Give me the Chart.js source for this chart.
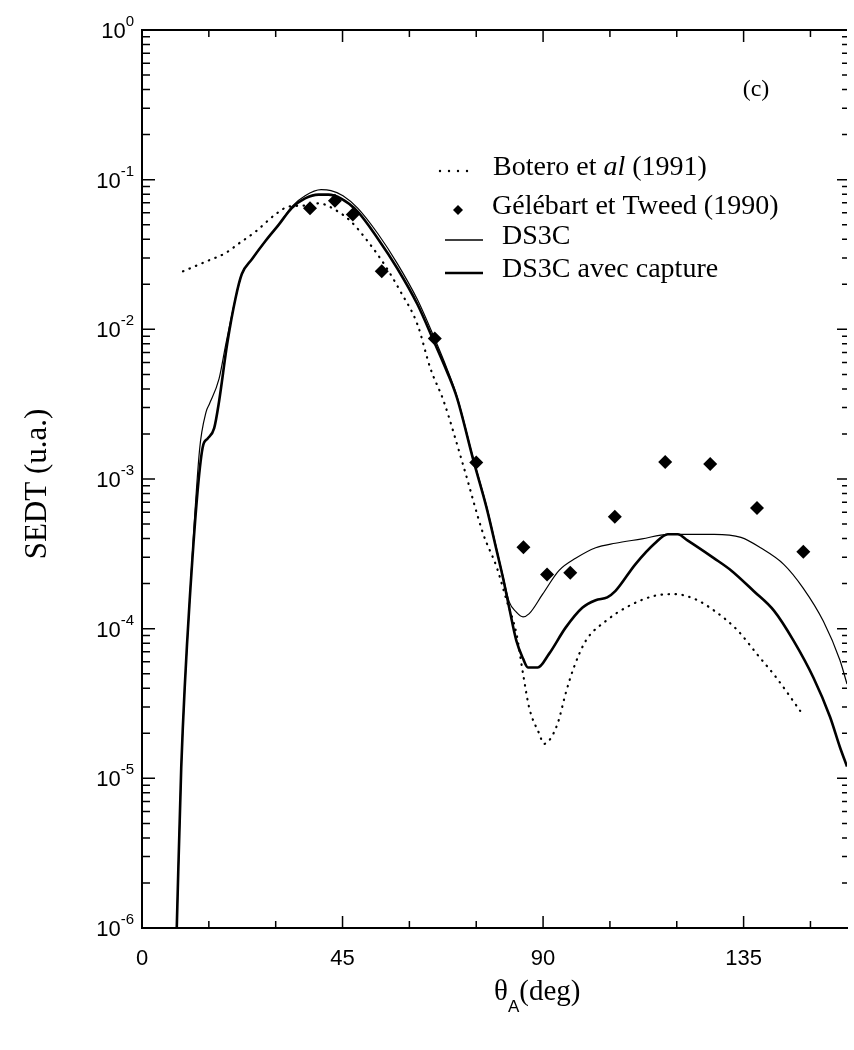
<!DOCTYPE html>
<html>
<head>
<meta charset="utf-8">
<script src="https://cdn.jsdelivr.net/npm/chart.js@4.4.1/dist/chart.umd.min.js"></script>
<style>
  html, body { margin: 0; padding: 0; background: #fff; }
  #wrap { width: 854px; height: 1050px; }
</style>
</head>
<body>
<div id="wrap"><canvas id="chart" width="854" height="1050"></canvas></div>
<script>
/* SEDT vs theta_A, panel (c) */

// ── Data ───────────────────────────────────────────
// DS3C (thin line)
const ds3cAngles = [7.8, 8.8, 10.7, 12.9, 14.4, 15.1, 17.3, 18.8, 21.0, 22.4, 24.7, 27.7, 30.7, 33.6, 36.6,
  40.2, 42.4, 45.1, 48.4, 52.9, 57.3, 61.8, 65.5, 68.4, 70.7, 74.4, 77.3, 79.6, 81.0, 82.4, 84.0, 85.5,
  86.9, 89.9, 93.6, 97.3, 101.8, 106.2, 112.2, 118.0, 124.0, 128.4, 134.4, 138.8, 144.0, 148.4, 152.9,
  156.6, 158.2];
const ds3cValues = [1e-6, 1.17e-5, 1.55e-4, 1.55e-3, 2.82e-3, 3.16e-3, 4.68e-3, 7.94e-3, 0.0162, 0.0234,
  0.0295, 0.0389, 0.0501, 0.0661, 0.0782, 0.0857, 0.0845, 0.0782, 0.0646, 0.0437, 0.0275, 0.0158,
  8.91e-3, 5.5e-3, 3.55e-3, 1.35e-3, 6.61e-4, 3.39e-4, 2.24e-4, 1.51e-4, 1.29e-4, 1.2e-4, 1.26e-4,
  1.7e-4, 2.45e-4, 2.95e-4, 3.47e-4, 3.72e-4, 3.98e-4, 4.27e-4, 4.27e-4, 4.27e-4, 4.07e-4, 3.47e-4,
  2.69e-4, 1.86e-4, 1.12e-4, 6.17e-5, 4.27e-5];

// DS3C avec capture (thick line)
const captAngles = [7.8, 8.8, 10.7, 13.6, 14.7, 16.2, 17.3, 19.1, 21.0, 22.4, 24.7, 27.7, 30.7, 33.6, 36.6,
  39.6, 41.8, 44.7, 48.4, 52.9, 57.3, 61.8, 65.5, 68.4, 70.7, 74.4, 77.3, 79.6, 81.0, 82.4, 84.0, 85.5,
  86.6, 88.8, 91.3, 95.1, 98.8, 101.8, 104.4, 106.2, 110.7, 115.1, 118.0, 120.2, 122.4, 128.4, 132.2,
  137.3, 141.8, 146.2, 150.7, 154.4, 156.6, 158.2];
const captValues = [1e-6, 1.17e-5, 1.55e-4, 1.62e-3, 1.86e-3, 2.19e-3, 3.31e-3, 7.94e-3, 0.0162, 0.0234,
  0.0295, 0.0389, 0.0501, 0.0646, 0.075, 0.0794, 0.0794, 0.0746, 0.0612, 0.0405, 0.0255, 0.0147,
  8.32e-3, 5.25e-3, 3.47e-3, 1.32e-3, 6.46e-4, 3.31e-4, 2.19e-4, 1.38e-4, 8.32e-5, 6.31e-5, 5.5e-5,
  5.5e-5, 6.76e-5, 1.02e-4, 1.38e-4, 1.55e-4, 1.62e-4, 1.78e-4, 2.69e-4, 3.72e-4, 4.27e-4, 4.27e-4,
  3.89e-4, 2.95e-4, 2.45e-4, 1.78e-4, 1.32e-4, 8.32e-5, 4.68e-5, 2.57e-5, 1.62e-5, 1.2e-5];

// Botero et al (1991) (dotted)
const boteroAngles = [9.2, 14.4, 18.8, 21.8, 25.5, 29.9, 32.9, 36.0, 39.6, 44.0, 46.9, 50.7, 54.4, 58.0,
  61.8, 64.7, 67.7, 72.2, 76.6, 79.6, 81.8, 84.0, 85.5, 86.9, 89.1, 90.2, 91.3, 93.3, 95.1, 96.9, 99.6,
  104.0, 109.1, 115.1, 119.6, 124.0, 128.4, 133.6, 138.0, 142.4, 147.7];
const boteroValues = [0.0244, 0.0284, 0.0324, 0.0376, 0.045, 0.0585, 0.0661, 0.067, 0.0695, 0.0612, 0.0525,
  0.0386, 0.0271, 0.0179, 0.0108, 5.5e-3, 3.31e-3, 1.2e-3, 4.27e-4, 2.57e-4, 1.55e-4, 9.33e-5, 5.01e-5,
  2.95e-5, 2.0e-5, 1.7e-5, 1.78e-5, 2.34e-5, 3.72e-5, 5.5e-5, 8.32e-5, 1.12e-4, 1.41e-4, 1.66e-4,
  1.7e-4, 1.58e-4, 1.32e-4, 9.77e-5, 6.76e-5, 4.68e-5, 2.82e-5];

// Gélébart et Tweed (1990) (diamonds)
const expAngles = [37.7, 43.3, 47.3, 53.8, 65.7, 75.0, 85.6, 90.9, 96.1, 106.1, 117.4, 127.5, 138.0, 148.4];
const expValues = [0.0645, 0.0724, 0.0585, 0.0244, 8.7e-3, 1.29e-3, 3.5e-4, 2.3e-4, 2.36e-4, 5.6e-4,
  1.3e-3, 1.26e-3, 6.4e-4, 3.26e-4];

// ── Axes ───────────────────────────────────────────
const X_MAX = 158.2;                 // figure is cropped on the right
const xTickAngles = [0, 15, 30, 45, 60, 75, 90, 105, 120, 135, 150];
const xLabelStep = 45;
const yDecades = [0, -1, -2, -3, -4, -5, -6];

const SERIF = '"Liberation Serif", "Times New Roman", serif';
const SANS = '"Liberation Sans", Arial, sans-serif';

const toXY = (xs, ys) => xs.map((x, i) => ({ x, y: ys[i] }));

// ── Decorations: inward ticks, top frame, labels, legend ──
const decor = {
  id: "decor",
  afterDraw(chart) {
    const { ctx, chartArea: a, scales: { x, y } } = chart;
    ctx.save();
    ctx.strokeStyle = "#000";
    ctx.fillStyle = "#000";

    // top frame line
    ctx.lineWidth = 2;
    ctx.beginPath(); ctx.moveTo(a.left, a.top); ctx.lineTo(a.right, a.top); ctx.stroke();

    // x ticks (bottom up, top down)
    ctx.lineWidth = 1.5;
    xTickAngles.forEach(t => {
      const px = x.getPixelForValue(t);
      const len = t % 45 === 0 ? 12 : 7;
      ctx.beginPath();
      ctx.moveTo(px, a.bottom); ctx.lineTo(px, a.bottom - len);
      ctx.moveTo(px, a.top); ctx.lineTo(px, a.top + len);
      ctx.stroke();
    });

    // y ticks (left axis and cropped right axis)
    yDecades.forEach(e => {
      for (let m = 1; m <= 9; m++) {
        const v = m * Math.pow(10, e);
        if (v > 1 || v < 1e-6) continue;
        const py = y.getPixelForValue(v);
        const len = m === 1 ? 13 : 8;
        ctx.beginPath();
        ctx.moveTo(a.left, py); ctx.lineTo(a.left + len, py);
        ctx.moveTo(a.right, py); ctx.lineTo(a.right - len + 3, py);
        ctx.stroke();
      }
    });

    // y tick labels 10^n
    yDecades.forEach(e => {
      const py = y.getPixelForValue(Math.pow(10, e));
      const exp = e === 0 ? "0" : "-" + (-e);
      ctx.font = `15px ${SANS}`;
      const w2 = ctx.measureText(exp).width;
      ctx.font = `22px ${SANS}`;
      const w1 = ctx.measureText("10").width;
      const right = a.left - 8;
      ctx.textBaseline = "middle";
      ctx.textAlign = "left";
      ctx.fillText("10", right - w2 - w1, py + 2);
      ctx.font = `15px ${SANS}`;
      ctx.fillText(exp, right - w2, py - 8);
    });

    // axis titles
    ctx.save();
    ctx.translate(38, 484);
    ctx.rotate(-Math.PI / 2);
    ctx.font = `31px ${SERIF}`;
    ctx.textAlign = "center";
    ctx.textBaseline = "middle";
    ctx.fillText("SEDT (u.a.)", 0, 0);
    ctx.restore();

    ctx.textAlign = "left";
    ctx.textBaseline = "alphabetic";
    let tx = 494;
    ctx.font = `29px ${SERIF}`;
    ctx.fillText("θ", tx, 1000);
    tx += ctx.measureText("θ").width;
    ctx.font = `17px ${SANS}`;
    ctx.fillText("A", tx, 1012);
    tx += ctx.measureText("A").width;
    ctx.font = `29px ${SERIF}`;
    ctx.fillText("(deg)", tx, 1000);

    // panel tag
    ctx.font = `24px ${SERIF}`;
    ctx.textAlign = "center";
    ctx.textBaseline = "middle";
    ctx.fillText("(c)", 756, 90);

    // legend
    ctx.textAlign = "left";
    ctx.textBaseline = "middle";
    // dotted sample
    for (let i = 0; i < 4; i++) {
      ctx.beginPath(); ctx.arc(440 + i * 9, 171, 1.2, 0, Math.PI * 2); ctx.fill();
    }
    let lx = 493;
    ctx.font = `28px ${SERIF}`;
    ctx.fillText("Botero et ", lx, 168);
    lx += ctx.measureText("Botero et ").width;
    ctx.font = `italic 28px ${SERIF}`;
    ctx.fillText("al", lx, 168);
    lx += ctx.measureText("al").width;
    ctx.font = `28px ${SERIF}`;
    ctx.fillText(" (1991)", lx, 168);

    // diamond sample
    ctx.beginPath();
    ctx.moveTo(458, 205); ctx.lineTo(463, 210); ctx.lineTo(458, 215); ctx.lineTo(453, 210);
    ctx.closePath(); ctx.fill();
    ctx.fillText("Gélébart et Tweed (1990)", 492, 207);

    ctx.lineWidth = 1.5;
    ctx.beginPath(); ctx.moveTo(445, 240); ctx.lineTo(483, 240); ctx.stroke();
    ctx.fillText("DS3C", 502, 237);

    ctx.lineWidth = 2.4;
    ctx.beginPath(); ctx.moveTo(445, 273); ctx.lineTo(483, 273); ctx.stroke();
    ctx.fillText("DS3C avec capture", 502, 270);

    ctx.restore();
  }
};

new Chart(document.getElementById("chart"), {
  type: "line",
  data: {
    datasets: [
      {
        label: "DS3C",
        data: toXY(ds3cAngles, ds3cValues),
        borderColor: "#000",
        borderWidth: 1.2,
        pointRadius: 0,
        cubicInterpolationMode: "monotone",
      },
      {
        label: "DS3C avec capture",
        data: toXY(captAngles, captValues),
        borderColor: "#000",
        borderWidth: 2.6,
        pointRadius: 0,
        cubicInterpolationMode: "monotone",
      },
      {
        label: "Botero et al (1991)",
        data: toXY(boteroAngles, boteroValues),
        borderColor: "#000",
        borderWidth: 2.2,
        borderDash: [0.5, 6.5],
        borderCapStyle: "round",
        pointRadius: 0,
        cubicInterpolationMode: "monotone",
      },
      {
        label: "Gélébart et Tweed (1990)",
        data: toXY(expAngles, expValues),
        showLine: false,
        pointStyle: "rectRot",
        pointRadius: 7,
        backgroundColor: "#000",
        borderColor: "#000",
        borderWidth: 0,
      },
    ],
  },
  options: {
    responsive: false,
    devicePixelRatio: 1,
    animation: false,
    layout: { padding: { top: 30, right: 0, bottom: 0, left: 0 } },
    plugins: { legend: { display: false }, tooltip: { enabled: false } },
    scales: {
      x: {
        type: "linear",
        min: 0,
        max: X_MAX,
        afterFit: s => { s.height = 122; },
        grid: { display: false, drawTicks: false },
        border: { display: true, color: "#000", width: 2 },
        ticks: {
          stepSize: xLabelStep,
          includeBounds: false,
          autoSkip: false,
          maxRotation: 0,
          padding: 18,
          color: "#000",
          font: { family: SANS, size: 22 },
        },
      },
      y: {
        type: "logarithmic",
        min: 1e-6,
        max: 1,
        afterFit: s => { s.width = 142; },
        grid: { display: false, drawTicks: false },
        border: { display: true, color: "#000", width: 2 },
        ticks: { display: false },
      },
    },
  },
  plugins: [decor],
});
</script>
</body>
</html>
